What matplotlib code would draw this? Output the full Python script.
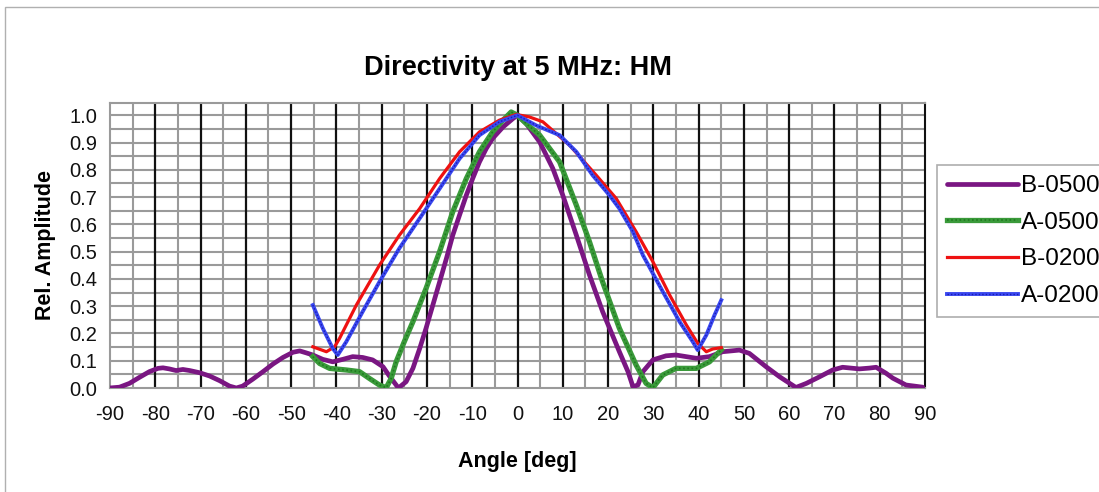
import matplotlib
matplotlib.use("Agg")
import matplotlib.pyplot as plt
from matplotlib.patches import Rectangle
from matplotlib.legend_handler import HandlerTuple
import numpy as np

plt.rcParams['font.family'] = ['Liberation Sans', 'DejaVu Sans']

# ---- data ----
b0500_x = [-90.1, -87.9, -85.7, -83.5, -81.3, -79.4, -78.3, -76.9, -75.4, -73.9, -72.4, -70.2, -68.0,
           -65.8, -63.6, -62.1, -60.7, -58.5, -56.2, -54.0, -51.8, -49.6, -48.1, -46.7, -45.2, -43.0,
           -40.8, -38.6, -36.4, -34.2, -32.0, -29.7, -28.3, -26.8, -26.3, -24.6, -23.1, -21.6, -20.2,
           -18.7, -17.2, -15.7, -14.3, -12.8, -11.3, -9.9, -8.4, -6.9, -5.5, -3.2, -1.0, 0.0,
           1.9, 4.9, 7.8, 10.0, 13.0, 15.9, 18.8, 22.5, 24.4, 25.5, 26.6, 27.7, 29.9, 32.8, 35.0,
           39.5, 42.4, 45.3, 49.0, 51.2, 54.9, 57.9, 61.5, 63.8, 66.7, 69.6, 71.8, 75.5, 77.7, 79.2,
           81.4, 82.9, 85.8, 89.5]
b0500_y = [0.0, 0.003, 0.017, 0.039, 0.06, 0.072, 0.074, 0.07, 0.064, 0.068, 0.064, 0.056, 0.044,
           0.027, 0.007, 0.0, 0.007, 0.032, 0.06, 0.088, 0.112, 0.131, 0.136, 0.129, 0.121, 0.105,
           0.096, 0.105, 0.115, 0.112, 0.103, 0.078, 0.044, 0.011, 0.0, 0.023, 0.072, 0.145, 0.219,
           0.304, 0.389, 0.475, 0.56, 0.634, 0.707, 0.768, 0.829, 0.878, 0.915, 0.957, 0.988, 1.0,
           0.97, 0.902, 0.805, 0.707, 0.56, 0.414, 0.28, 0.133, 0.06, 0.005, 0.011, 0.06, 0.103, 0.118,
           0.121, 0.109, 0.115, 0.133, 0.139, 0.127, 0.078, 0.041, 0.002, 0.017, 0.041, 0.066, 0.076,
           0.07, 0.073, 0.076, 0.054, 0.036, 0.011, 0.003]

a0500_x = [-45.2, -43.7, -41.5, -37.8, -34.9, -32.7, -30.5, -29.0, -27.9, -26.8, -25.0, -23.1, -20.2,
           -17.2, -14.3, -11.3, -8.4, -5.5, -3.2, -1.4, 0.0, 1.9, 4.9, 9.3, 13.0, 15.9, 18.8, 22.5,
           26.2, 28.4, 29.9, 32.1, 35.0, 39.5, 42.4, 44.6, 45.0]
a0500_y = [0.115, 0.09, 0.072, 0.066, 0.06, 0.035, 0.011, 0.001, 0.035, 0.096, 0.17, 0.243, 0.365,
           0.5, 0.646, 0.768, 0.866, 0.939, 0.982, 1.012, 1.0, 0.97, 0.927, 0.829, 0.67, 0.536, 0.389,
           0.219, 0.084, 0.017, 0.001, 0.048, 0.072, 0.072, 0.096, 0.133, 0.14]

b0200_x = [-45.2, -42.2, -40.4, -39.3, -35.6, -30.5, -26.1, -21.6, -17.2, -12.8, -8.4, -4.0, -0.3,
           2.6, 5.6, 11.5, 17.4, 21.8, 26.2, 29.9, 33.6, 37.3, 39.8, 41.7, 43.1, 45.0]
b0200_y = [0.151, 0.133, 0.151, 0.182, 0.304, 0.45, 0.56, 0.658, 0.768, 0.866, 0.939, 0.982, 1.003,
           0.994, 0.976, 0.89, 0.78, 0.695, 0.573, 0.463, 0.341, 0.231, 0.164, 0.133, 0.143, 0.148]

a0200_x = [-45.2, -43.0, -40.8, -39.7, -37.8, -34.2, -30.5, -26.1, -21.6, -17.2, -12.8, -8.4, -4.0,
           0.0, 4.1, 9.3, 13.0, 16.6, 20.3, 22.5, 25.5, 27.7, 32.1, 35.8, 38.7, 39.8, 41.7, 43.5, 45.0]
a0200_y = [0.304, 0.219, 0.145, 0.121, 0.17, 0.28, 0.389, 0.512, 0.622, 0.731, 0.841, 0.927, 0.976,
           1.0, 0.963, 0.927, 0.866, 0.78, 0.707, 0.658, 0.573, 0.487, 0.353, 0.243, 0.17, 0.139,
           0.194, 0.267, 0.322]

series_names = ["B-0500", "A-0500", "B-0200", "A-0200"]
x_ticks = list(range(-90, 91, 10))
y_ticks = [round(0.1 * i, 1) for i in range(11)]

# ---- figure ----
fig = plt.figure(figsize=(10.99, 4.92), dpi=100)
fig.patch.set_facecolor("white")
fig.add_artist(Rectangle((5 / 1099, -0.1), 1.2, 1.1 - 7 / 492, transform=fig.transFigure,
                         fill=False, edgecolor="#b0b0b0", lw=1.0))

ax = fig.add_axes([110 / 1099, 1 - 388 / 492, (925 - 110) / 1099, (388 - 103) / 492])
ax.set_xlim(-90, 90)
ax.set_ylim(0, 1.045)

for xv in np.arange(-85, 90, 10):
    ax.axvline(xv, color="#9a9a9a", lw=1.5, zorder=1)
for yv in np.arange(0.05, 1.05, 0.05):
    ax.axhline(yv, color="#9a9a9a", lw=1.5, zorder=1)
for xv in np.arange(-80, 90, 10):
    ax.axvline(xv, color="#111111", lw=1.6, zorder=1.2)

for s in ax.spines.values():
    s.set_color("#9a9a9a")
    s.set_linewidth(1.5)
ax.spines["right"].set_color("#111111")

l1, = ax.plot(b0500_x, b0500_y, color="#7a1682", lw=3.4, solid_joinstyle="round",
              solid_capstyle="round", zorder=3)
l2, = ax.plot(a0500_x, a0500_y, color="#3a9a3a", lw=3.8, solid_joinstyle="round", zorder=4)
l2b, = ax.plot(a0500_x, a0500_y, color="#1f7a1f", lw=1.2, ls=(0, (1, 1.5)), zorder=4.1)
l3, = ax.plot(b0200_x, b0200_y, color="#ee1111", lw=2.3, solid_joinstyle="round", zorder=5)
l4, = ax.plot(a0200_x, a0200_y, color="#3a48f0", lw=2.8, solid_joinstyle="round", zorder=6)
l4b, = ax.plot(a0200_x, a0200_y, color="#1a1ab0", lw=1.0, ls=(0, (1, 1.5)), zorder=6.1)

ax.set_xticks(x_ticks)
ax.set_xticklabels([str(v) for v in x_ticks])
ax.set_yticks(y_ticks)
ax.set_yticklabels([f"{v:.1f}" for v in y_ticks])
ax.tick_params(length=0, labelsize=14.5, colors="#111111")
ax.tick_params(axis="x", pad=12)
ax.tick_params(axis="y", pad=9)

ax.set_xlabel("Angle [deg]", fontsize=15.5, fontweight="bold", labelpad=20)
ax.set_ylabel("Rel. Amplitude", fontsize=15.5, fontweight="bold", labelpad=10)
ax.set_title("Directivity at 5 MHz: HM", fontsize=19.5, fontweight="bold", pad=20)

leg = fig.legend([l1, (l2, l2b), l3, (l4, l4b)], series_names,
                 handler_map={tuple: HandlerTuple(ndivide=1, pad=0)},
                 loc="upper left", bbox_to_anchor=(937 / 1099, 1 - 165 / 492),
                 bbox_transform=fig.transFigure, fontsize=17.5, frameon=True, fancybox=False,
                 handlelength=2.9, handletextpad=0.12, labelspacing=0.6, borderpad=0.42,
                 borderaxespad=0)
leg.get_frame().set_edgecolor("#9a9a9a")
leg.get_frame().set_linewidth(1.2)

fig.savefig("out.png", dpi=100)
